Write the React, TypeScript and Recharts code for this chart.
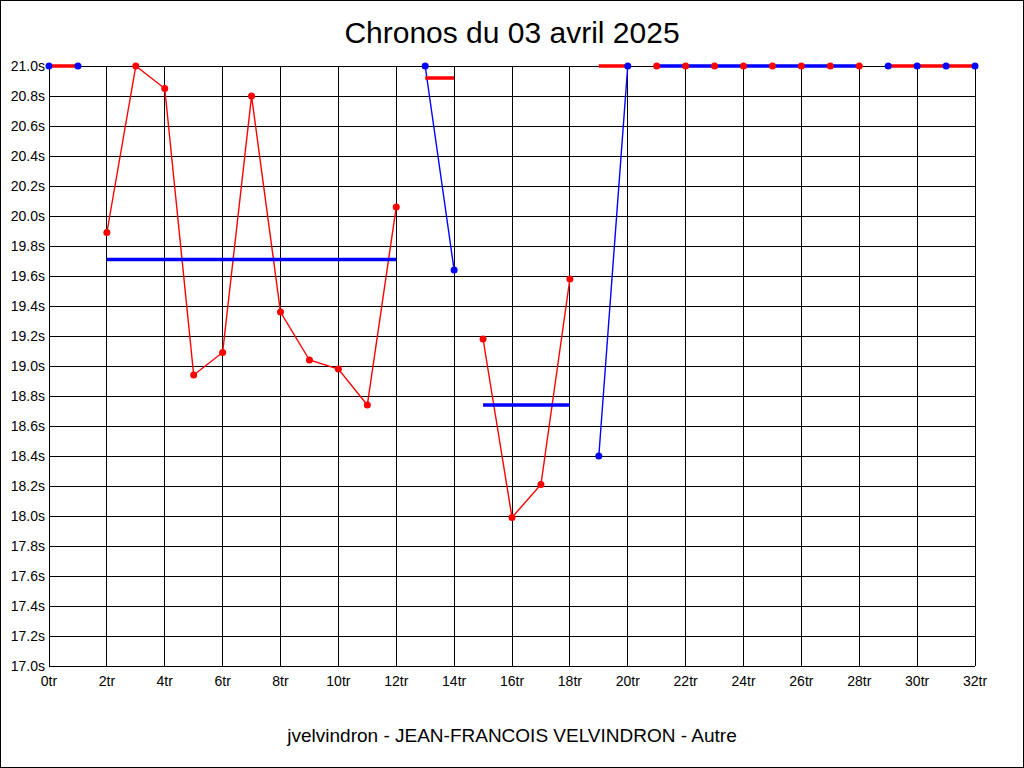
import React from 'react';
import { ComposedChart, Line, XAxis, YAxis, CartesianGrid } from 'recharts';

// lap times in seconds, one per lap (lap number = index)
const LAP_TIMES = [
  21.0, 21.0,
  19.89, 21.0, 20.85, 18.94, 19.09, 20.8, 19.36, 19.04, 18.98, 18.74, 20.06,
  21.0, 19.64,
  19.18, 17.99, 18.21, 19.58,
  18.4, 21.0,
  21.0, 21.0, 21.0, 21.0, 21.0, 21.0, 21.0, 21.0,
  21.0, 21.0, 21.0, 21.0,
];

// runs of laps: first lap, last lap, mean time
const SEG_FIRST = [0, 2, 13, 15, 19, 21, 29];
const SEG_LAST = [1, 12, 14, 18, 20, 28, 32];
const SEG_MEAN = [21.0, 19.71, 20.92, 18.74, 21.0, 21.0, 21.0];

const X_TICKS = [0, 2, 4, 6, 8, 10, 12, 14, 16, 18, 20, 22, 24, 26, 28, 30, 32];
const Y_TICKS = [
  17.0, 17.2, 17.4, 17.6, 17.8, 18.0, 18.2, 18.4, 18.6, 18.8, 19.0,
  19.2, 19.4, 19.6, 19.8, 20.0, 20.2, 20.4, 20.6, 20.8, 21.0,
];

const TITLE = 'Chronos du 03 avril 2025';
const FOOTER = 'jvelvindron - JEAN-FRANCOIS VELVINDRON - Autre';

const RED = '#ff0000';
const BLUE = '#0000ff';
const FONT = '"Liberation Sans", Arial, sans-serif';

// even runs: blue laps with red mean, odd runs: red laps with blue mean
const rows = LAP_TIMES.map((t, lap) => {
  const seg = SEG_FIRST.findIndex((f, i) => lap >= f && lap <= SEG_LAST[i]);
  const even = seg % 2 === 0;
  return {
    lap,
    blue: even ? t : null,
    red: even ? null : t,
    redMean: even ? SEG_MEAN[seg] : null,
    blueMean: even ? null : SEG_MEAN[seg],
  };
});

const tickStyle = { fontSize: 14, fill: '#000', fontFamily: FONT };
const fmtY = (v: number) => v.toFixed(1) + 's';
const fmtX = (v: number) => v + 'tr';

export default function App() {
  return (
    <div style={{ position: 'relative', width: 1024, height: 768, background: '#fff', fontFamily: FONT }}>
      <style>{'body{margin:0}'}</style>
      <ComposedChart width={1024} height={768} data={rows} margin={{ top: 66, right: 0, bottom: 0, left: 0 }}>
        <CartesianGrid stroke="#000" strokeOpacity={1} shapeRendering="crispEdges" />
        <XAxis
          dataKey="lap"
          type="number"
          domain={[0, 32]}
          ticks={X_TICKS}
          tickFormatter={fmtX}
          axisLine={false}
          tickLine={false}
          tickSize={0}
          tickMargin={10}
          height={102}
          tick={tickStyle}
          interval={0}
        />
        <YAxis
          type="number"
          domain={[17, 21]}
          ticks={Y_TICKS}
          tickFormatter={fmtY}
          axisLine={false}
          tickLine={false}
          tickSize={0}
          tickMargin={4}
          width={49}
          tick={tickStyle}
          interval={0}
        />
        <YAxis
          yAxisId="right"
          orientation="right"
          type="number"
          domain={[17, 21]}
          ticks={Y_TICKS}
          tickFormatter={fmtY}
          axisLine={false}
          tickLine={false}
          tickSize={0}
          tickMargin={4}
          width={49}
          tick={tickStyle}
          interval={0}
        />
        <Line dataKey="red" stroke={RED} strokeWidth={1.4} dot={false} isAnimationActive={false} />
        <Line dataKey="blue" stroke={BLUE} strokeWidth={1.4} dot={false} isAnimationActive={false} />
        <Line dataKey="redMean" stroke={RED} strokeWidth={3.5} dot={false} isAnimationActive={false} />
        <Line dataKey="blueMean" stroke={BLUE} strokeWidth={3.5} dot={false} isAnimationActive={false} />
        <Line dataKey="red" stroke="none" dot={{ r: 3.5, fill: RED, stroke: 'none' }} isAnimationActive={false} />
        <Line dataKey="blue" stroke="none" dot={{ r: 3.5, fill: BLUE, stroke: 'none' }} isAnimationActive={false} />
      </ComposedChart>
      <div style={{ position: 'absolute', left: 0, top: 18, width: 1024, textAlign: 'center', fontSize: 30, lineHeight: '30px', color: '#000' }}>
        {TITLE}
      </div>
      <div style={{ position: 'absolute', left: 0, top: 726, width: 1024, textAlign: 'center', fontSize: 19, lineHeight: '19px', color: '#000' }}>
        {FOOTER}
      </div>
      <div style={{ position: 'absolute', left: 0, top: 0, width: 1024, height: 768, boxSizing: 'border-box', border: '1px solid #000', pointerEvents: 'none' }} />
    </div>
  );
}
